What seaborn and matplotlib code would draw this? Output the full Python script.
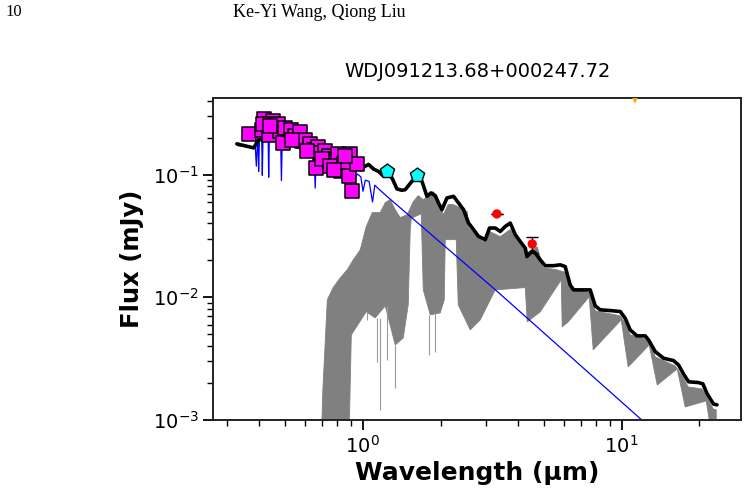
"""
SED of WDJ091213.68+000247.72: photometry with WD, brown-dwarf and composite models.
"""

import numpy as np
import matplotlib.pyplot as plt
import seaborn as sns

# ---- photometry (micron, mJy) ----
spec_wl = [0.364, 0.418, 0.410, 0.434, 0.451, 0.470, 0.481, 0.491, 0.503, 0.529,
           0.550, 0.571, 0.583, 0.601, 0.628, 0.647, 0.663, 0.670, 0.687, 0.718,
           0.739, 0.762, 0.785, 0.801, 0.828, 0.845, 0.883, 0.891, 0.912, 0.956,
           0.412, 0.440, 0.534, 0.610, 0.697, 0.750, 0.857, 0.773]
spec_flux = [0.215, 0.286, 0.233, 0.209, 0.272, 0.256, 0.226, 0.181, 0.240, 0.233,
             0.205, 0.223, 0.187, 0.193, 0.176, 0.160, 0.113, 0.167, 0.150, 0.155,
             0.141, 0.133, 0.125, 0.146, 0.106, 0.121, 0.097, 0.146, 0.074, 0.121,
             0.259, 0.248, 0.193, 0.155, 0.133, 0.117, 0.141, 0.110]

nir_wl = [1.242, 1.622]
nir_flux = [0.106, 0.099]

wise_wl = [3.30, 4.52]
wise_flux = [0.0478, 0.0272]
wise_err = [0.0, 0.0041]

w3_wl = [11.27]
w3_flux = [0.409]

# ---- white dwarf model ----
wd_wl = [0.330, 0.375, 0.3855, 0.3890, 0.3925, 0.3950, 0.3970, 0.3995, 0.4080, 0.4102,
         0.4125, 0.4320, 0.4341, 0.4365, 0.4830, 0.4861, 0.4895, 0.6500, 0.6563, 0.6630,
         0.820, 0.900, 0.923, 0.940, 0.955, 0.985, 1.004, 1.025, 1.060, 1.093,
         1.115, 1.150, 1.242, 3.26, 12.41]
wd_flux = [0.172, 0.168, 0.165, 0.117, 0.180, 0.182, 0.106, 0.188, 0.192, 0.0987,
           0.194, 0.196, 0.0951, 0.196, 0.186, 0.0894, 0.184, 0.146, 0.0776, 0.144,
           0.117, 0.107, 0.103, 0.096, 0.101, 0.096, 0.0731, 0.090, 0.088, 0.0598,
           0.082, 0.077, 0.0665, 0.0115, 0.000936]

# ---- brown dwarf model (upper / lower envelope of the dense spectrum) ----
bd_up_wl = [0.696, 0.702, 0.731, 0.770, 0.820, 0.873, 0.921, 0.980, 1.033, 1.090,
            1.170, 1.224, 1.279, 1.337, 1.398, 1.488, 1.570, 1.641, 1.716, 1.778,
            1.875, 1.960, 2.049, 2.142, 2.240, 2.384, 2.537, 2.559, 2.724, 2.924,
            3.112, 3.402, 3.718, 3.957, 4.325, 4.727, 4.986, 5.597, 6.170, 6.452,
            7.571, 7.915, 9.886, 10.33, 10.80, 12.35, 12.91, 13.50, 16.12, 17.31,
            18.10, 20.49, 21.42, 22.60, 23.21]
bd_up_flux = [0.0009, 0.00169, 0.00954, 0.0120, 0.0144, 0.0168, 0.0202, 0.0244, 0.0376, 0.0490,
              0.0490, 0.0591, 0.0625, 0.0518, 0.0446, 0.0471, 0.0602, 0.0674, 0.0625, 0.0661,
              0.0727, 0.0625, 0.0471, 0.0569, 0.0569, 0.0538, 0.0499, 0.0376, 0.0324, 0.0284,
              0.0342, 0.0312, 0.0356, 0.0295, 0.0231, 0.0258, 0.0174, 0.0168, 0.0158, 0.0120,
              0.0109, 0.00776, 0.00706, 0.00619, 0.00494, 0.00458, 0.00433, 0.00327, 0.00276, 0.00220,
              0.00186, 0.00179, 0.00151, 0.00123, 0.00121]
bd_lo_wl = [0.696, 0.889, 0.905, 1.033, 1.119, 1.224, 1.337, 1.436, 1.501, 1.528,
            1.542, 1.685, 1.716, 1.826, 1.995, 2.068, 2.086, 2.300, 2.342, 2.605,
            2.847, 3.112, 3.253, 4.249, 4.325, 4.855, 5.851, 5.902, 6.226, 7.504,
            7.776, 9.974, 10.61, 12.79, 13.74, 16.41, 17.62, 21.24, 22.00, 23.21]
bd_lo_flux = [0.0009, 0.0009, 0.00494, 0.00762, 0.00680, 0.00852, 0.00409, 0.00467, 0.00869, 0.0356,
              0.0440, 0.0480, 0.0115, 0.00720, 0.00747, 0.00954, 0.0295, 0.0295, 0.00869, 0.00543,
              0.00655, 0.00954, 0.0115, 0.0120, 0.00631, 0.00762, 0.0139, 0.00574, 0.00631, 0.0101,
              0.00373, 0.00655, 0.00271, 0.00409, 0.00193, 0.00261, 0.00128, 0.00143, 0.0009, 0.0009]
# a few deep absorption spikes below the envelope
spike_wl = [1.040, 1.137, 1.170, 1.242, 1.337, 1.798, 1.909]
spike_top = [0.0077, 0.0068, 0.0068, 0.0085, 0.0041, 0.0072, 0.0074]
spike_bot = [0.00655, 0.00297, 0.00121, 0.00309, 0.00182, 0.00339, 0.00359]

# ---- composite model ----
mod_wl = [0.327, 0.380, 0.397, 0.481, 0.575, 0.687, 0.820, 0.937, 1.009, 1.055,
          1.103, 1.153, 1.199, 1.242, 1.299, 1.358, 1.419, 1.462, 1.551, 1.622,
          1.696, 1.773, 1.837, 1.909, 1.965, 2.026, 2.118, 2.246, 2.348, 2.455,
          2.566, 2.683, 2.804, 2.977, 3.092, 3.253, 3.402, 3.556, 3.718, 3.887,
          4.064, 4.249, 4.313, 4.510, 4.644, 4.855, 5.076, 5.464, 5.799, 6.061,
          6.337, 6.527, 7.134, 7.571, 7.915, 8.275, 9.046, 9.886, 10.33, 10.80,
          11.47, 12.35, 12.71, 13.50, 14.53, 15.88, 16.60, 17.36, 18.15, 19.83,
          20.62, 21.37, 22.14, 22.66, 23.36]
mod_flux = [0.178, 0.165, 0.193, 0.193, 0.166, 0.146, 0.128, 0.113, 0.115, 0.121,
            0.111, 0.106, 0.098, 0.104, 0.094, 0.0764, 0.0745, 0.0754, 0.0882, 0.0958,
            0.0882, 0.0665, 0.0709, 0.0674, 0.0587, 0.0518, 0.0645, 0.0665, 0.0587, 0.0518,
            0.0403, 0.0356, 0.0314, 0.0295, 0.0367, 0.0367, 0.0344, 0.0378, 0.0403, 0.0324,
            0.0285, 0.0252, 0.0215, 0.0237, 0.0230, 0.0202, 0.0181, 0.0181, 0.0184, 0.0178,
            0.0126, 0.0115, 0.0115, 0.0115, 0.00852, 0.00791, 0.00780, 0.00766, 0.00676, 0.00543,
            0.00485, 0.00485, 0.00450, 0.00361, 0.00319, 0.00305, 0.00281, 0.00237, 0.00205, 0.00202,
            0.00197, 0.00165, 0.00146, 0.00135, 0.00133]

sns.set_style("ticks")
plt.rcParams["font.family"] = ["DejaVu Sans"]
plt.rcParams.update({"text.color": "black", "axes.labelcolor": "black",
                     "xtick.color": "black", "ytick.color": "black"})

fig = plt.figure(figsize=(7.48, 4.93), dpi=100)
ax = fig.add_axes([0.285, 0.148, 0.706, 0.653])

# brown dwarf model as a filled band
ax.fill(bd_up_wl + bd_lo_wl[::-1], bd_up_flux + bd_lo_flux[::-1],
        color="gray", lw=0.6, ec="gray", zorder=1)
ax.vlines(spike_wl, spike_bot, spike_top, color="#999999", lw=0.8, zorder=1)

sns.lineplot(x=wd_wl, y=wd_flux, sort=False, estimator=None, color="blue",
             lw=0.9, ax=ax, zorder=2)
sns.lineplot(x=mod_wl, y=mod_flux, sort=False, estimator=None, color="black",
             lw=2.6, ax=ax, zorder=3)

ax.errorbar(wise_wl, wise_flux, yerr=wise_err, fmt="none", ecolor="black",
            elinewidth=1.0, capsize=4, zorder=4)
sns.scatterplot(x=wise_wl, y=wise_flux, color="red", marker="o", s=45,
                edgecolor="none", ax=ax, zorder=5)
sns.scatterplot(x=spec_wl, y=spec_flux, color="magenta", marker="s", s=95,
                edgecolor="black", linewidth=1.1, ax=ax, zorder=6)
sns.scatterplot(x=nir_wl, y=nir_flux, color="cyan", marker="p", s=115,
                edgecolor="black", linewidth=1.0, ax=ax, zorder=6)
sns.scatterplot(x=w3_wl, y=w3_flux, color="orange", marker="v", s=35,
                edgecolor="none", ax=ax, zorder=6)

ax.set_xscale("log")
ax.set_yscale("log")
ax.set_xlim(0.265, 29)
ax.set_ylim(1e-3, 0.42)

for sp in ax.spines.values():
    sp.set_linewidth(1.4)
    sp.set_color("#222222")
ax.tick_params(which="major", length=7, width=1.3, labelsize=14)
ax.tick_params(which="minor", length=4, width=1.0)

ax.set_xlabel("Wavelength (µm)", fontsize=18, fontweight="bold", labelpad=3)
ax.set_ylabel("Flux (mJy)", fontsize=17.5, fontweight="bold", labelpad=6)
ax.set_title("WDJ091213.68+000247.72", fontsize=14, pad=15)

# page header from the paper
fig.text(0.007, 0.992, "10", family="Liberation Serif", fontsize=12, va="top")
fig.text(0.311, 0.992, "Ke-Yi Wang, Qiong Liu", family="Liberation Serif",
         fontsize=13, va="top")

fig.savefig("out.png", dpi=100)
